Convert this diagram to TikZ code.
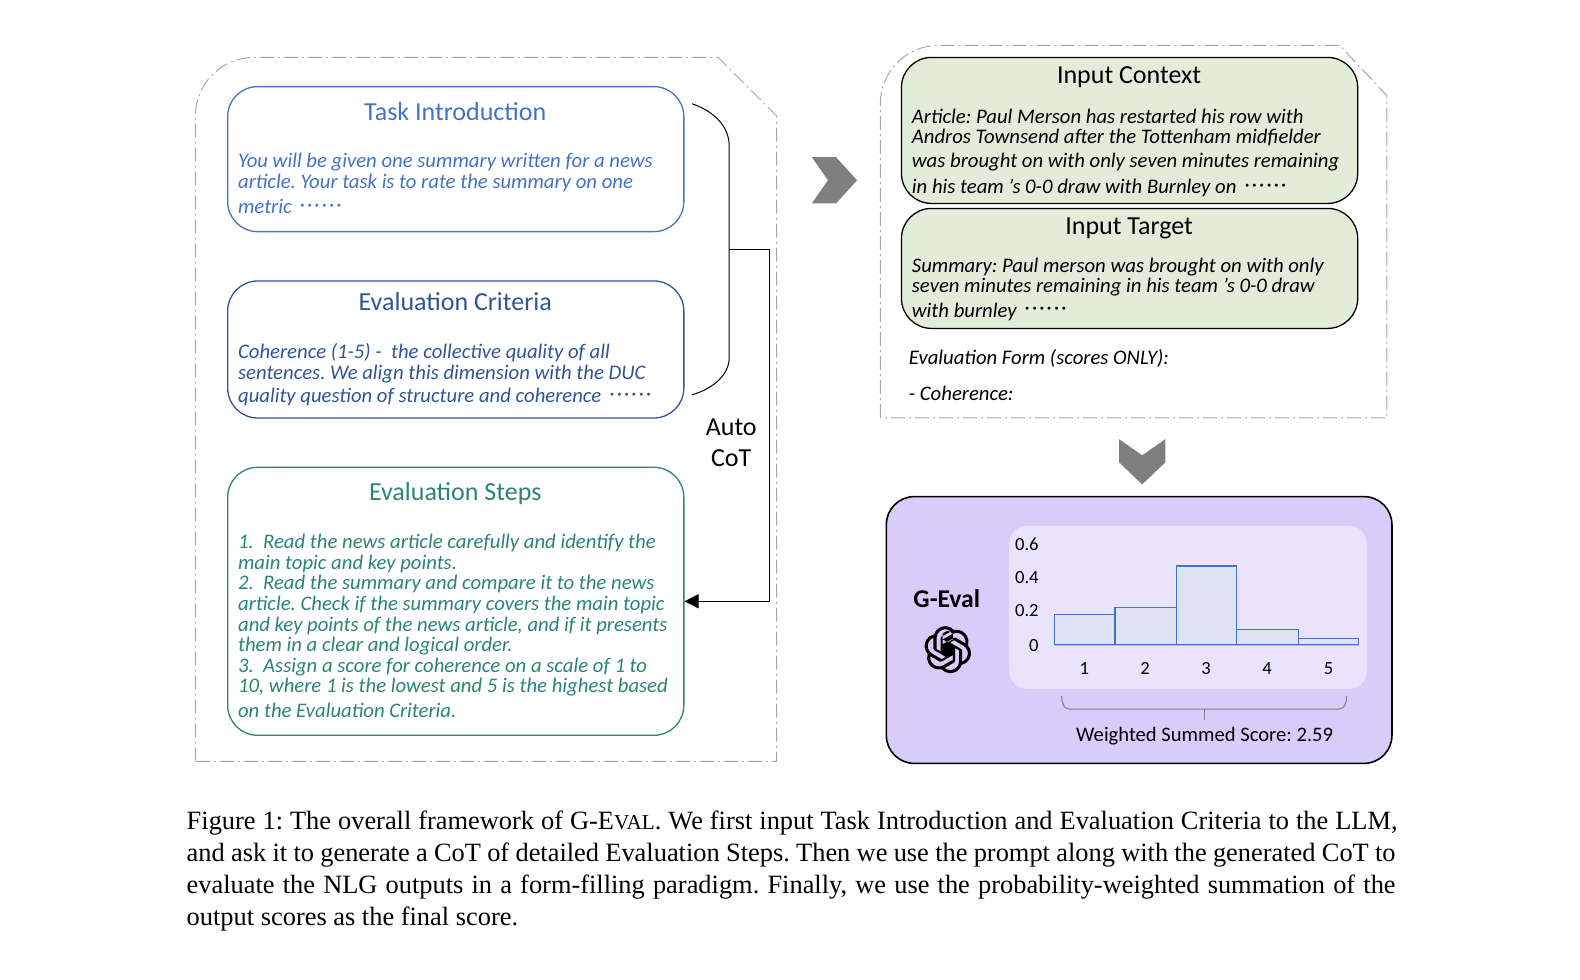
\documentclass[tikz,border=0pt]{standalone}
\usepackage{fontspec}
\setmainfont{Carlito}
\newfontfamily\capfont{Liberation Serif}
\usetikzlibrary{positioning,arrows.meta,svg.path}
\definecolor{taskblue}{HTML}{4472C4}
\definecolor{critblue}{HTML}{2F5597}
\definecolor{stepteal}{HTML}{2A8478}
\definecolor{inputgreen}{HTML}{E2ECD9}
\definecolor{panelpurple}{HTML}{D8CCFA}
\definecolor{chartpurple}{HTML}{E9E3FB}
\definecolor{barfill}{HTML}{DDE3F0}
\definecolor{framegray}{HTML}{A6A6A6}
\definecolor{chevgray}{HTML}{7F7F7F}
\newcommand{\trail}{\hspace{0.38em}\raisebox{1.2pt}{\foreach \n in {1,...,6}{·\kern1.05pt}}}
\tikzset{
	card/.style={draw, line width=0.65pt, rounded corners=15pt, minimum width=228.1pt, inner sep=0pt},
	cardtitle/.style={font=\fontsize{13}{15}\selectfont, inner sep=0pt},
	cardtext/.style={font=\fontsize{10.36}{10.3}\selectfont\itshape\frenchspacing, anchor=north west, align=left, inner sep=0pt},
	frame/.style={draw=framegray, line width=0.5pt, dash pattern=on 7pt off 2pt on 1pt off 2pt},
	chev/.style={fill=chevgray, draw=none},
	bar/.style={draw=taskblue, fill=barfill, line width=0.55pt},
	ticklabel/.style={font=\fontsize{9.3}{11}\selectfont, inner sep=0pt},
	capline/.style={font=\capfont\fontsize{13.2}{15}\selectfont\frenchspacing, anchor=base west, inner sep=0pt}
}
\begin{document}
\begin{tikzpicture}[x=0.5036pt,y=-0.5036pt]
	\useasboundingbox (0,0) rectangle (1568.7,973);

	% dashed frames
	\draw[frame] (194,756) -- (194,115) arc[start angle=180,end angle=90,radius=29.2pt] -- (713,57) -- (771,115) -- (771,756) -- cycle;
	\draw[frame] (874,415) -- (874,103) arc[start angle=180,end angle=90,radius=29.2pt] -- (1330,45) -- (1377,95) -- (1377,415) -- cycle;

	% left column
	\node[card, draw=taskblue, minimum height=72.5pt] (task) at (452.5,158) {};
	\node[card, draw=critblue, minimum height=68.5pt] (crit) at (452.5,347) {};
	\node[card, draw=stepteal, minimum height=134pt] (steps) at (452.5,597) {};

	\node[cardtitle, text=taskblue] (tasktitle) at (452,111) {Task Introduction};
	\node[cardtitle, text=critblue] (crittitle) at (452,299) {Evaluation Criteria};
	\node[cardtitle, text=stepteal] (stepstitle) at (452,490) {Evaluation Steps};

	\node[cardtext, text=taskblue] (tasktext) at (236,152) {You will be given one summary written for a news\\article. Your task is to rate the summary on one\\[2.2pt]metric\trail};
	\node[cardtext, text=critblue] (crittext) at (236,340.5) {Coherence (1-5) -~ the collective quality of all\\sentences. We align this dimension with the DUC\\[1.5pt]quality question of structure and coherence\trail};
	\node[cardtext, text=stepteal] (stepstext) at (236,530) {1.~ Read the news article carefully and identify the\\main topic and key points.\\2.~ Read the summary and compare it to the news\\article. Check if the summary covers the main topic\\and key points of the news article, and if it presents\\them in a clear and logical order.\\3.~ Assign a score for coherence on a scale of 1 to\\10, where 1 is the lowest and 5 is the highest based\\[2pt]on the Evaluation Criteria.};

	% bracket and feedback arrow
	\coordinate (brtop) at (687,103);
	\coordinate (brbot) at (687,392);
	\coordinate (brmid) at (724,248);
	\draw[line width=0.5pt] (brtop) .. controls (708,110) and (724,125) .. (724,145) -- (724,355) .. controls (724,372) and (708,386) .. (brbot);
	\draw[line width=0.5pt, -{Triangle[length=7pt,width=7pt]}] (brmid) -- (764,248) -- (764,597) -- (steps.east);
	\node[font=\fontsize{13}{15.6}\selectfont, align=center, inner sep=0pt] (autocot) at (726,439.5) {Auto\\CoT};

	% chevrons
	\fill[chev] (806,156) -- (830,156) -- (851,179) -- (830,202) -- (806,202) -- (822,179) -- cycle;
	\fill[chev] (1111,436) -- (1134,452) -- (1157,436) -- (1157,459) -- (1134,481) -- (1111,459) -- cycle;

	% right column
	\node[card, draw=black, fill=inputgreen, minimum height=73pt] (context) at (1121.5,129.5) {};
	\node[card, draw=black, fill=inputgreen, minimum height=60pt] (target) at (1121.5,266.5) {};
	\node[cardtitle] (contexttitle) at (1121,76.5) {Input Context};
	\node[cardtitle] (targettitle) at (1121,227) {Input Target};
	\node[cardtext] (contexttext) at (905,107.5) {Article: Paul Merson has restarted his row with\\Andros Townsend after the Tottenham midfielder\\[1.4pt]was brought on with only seven minutes remaining\\[3pt]in his team 's 0-0 draw with Burnley on\trail};
	\node[cardtext] (targettext) at (905,255.5) {Summary: Paul merson was brought on with only\\seven minutes remaining in his team 's 0-0 draw\\[2pt]with burnley\trail};
	\node[cardtext] (formtext) at (902,346.5) {Evaluation Form (scores ONLY):\\[7.8pt]- Coherence:};

	% result panel
	\node[card, draw=black, fill=panelpurple, rounded corners=14pt, line width=0.8pt, minimum width=252.8pt, minimum height=133.4pt] (panel) at (1131,625.5) {};
	\node[fill=chartpurple, rounded corners=9pt, minimum width=178.8pt, minimum height=81.6pt, inner sep=0pt] (chart) at (1179.5,603) {};
	\node[font=\fontsize{12.8}{14}\selectfont\bfseries, inner sep=0pt] (geval) at (940,594) {G-Eval};

	% logo
	\begin{scope}[shift={(941,645)}, scale=0.98, yscale=-1, shift={(-12pt,-12pt)}]
		\fill[even odd rule] svg {M22.2819 9.8211 a5.9847 5.9847 0 0 0 -0.5157 -4.9108 6.0462 6.0462 0 0 0 -6.5098 -2.9 A6.0651 6.0651 0 0 0 4.9807 4.1818 a5.9847 5.9847 0 0 0 -3.9977 2.9 6.0462 6.0462 0 0 0 0.7427 7.0966 5.98 5.98 0 0 0 0.511 4.9107 6.051 6.051 0 0 0 6.5146 2.9001 A5.9847 5.9847 0 0 0 13.2599 24 a6.0557 6.0557 0 0 0 5.7718 -4.2058 5.9894 5.9894 0 0 0 3.9977 -2.9001 6.0557 6.0557 0 0 0 -0.7475 -7.073 z
		M13.2599 22.4292 a4.4755 4.4755 0 0 1 -2.8764 -1.0408 l0.1419 -0.0804 4.7783 -2.7582 a0.7948 0.7948 0 0 0 0.3927 -0.6813 v-6.7369 l2.02 1.1686 a0.071 0.071 0 0 1 0.038 0.052 v5.5826 a4.504 4.504 0 0 1 -4.4945 4.4944 z
		M3.5992 18.3038 a4.4708 4.4708 0 0 1 -0.5346 -3.0137 l0.142 0.0852 4.783 2.7582 a0.7712 0.7712 0 0 0 0.7806 0 l5.8428 -3.3685 v2.3324 a0.0804 0.0804 0 0 1 -0.0332 0.0615 L9.74 19.9502 a4.4992 4.4992 0 0 1 -6.1408 -1.6464 z
		M2.3408 7.8956 a4.485 4.485 0 0 1 2.3655 -1.9728 V11.6 a0.7664 0.7664 0 0 0 0.3879 0.6765 l5.8144 3.3543 -2.0201 1.1685 a0.0757 0.0757 0 0 1 -0.071 0 l-4.8303 -2.7865 A4.504 4.504 0 0 1 2.3408 7.872 z
		M18.9371 11.7514 L13.1038 8.364 15.1192 7.2 a0.0757 0.0757 0 0 1 0.071 0 l4.8303 2.7913 a4.4944 4.4944 0 0 1 -0.6765 8.1042 v-5.6772 a0.79 0.79 0 0 0 -0.407 -0.667 z
		M20.9478 8.7283 l-0.142 -0.0852 -4.7735 -2.7818 a0.7759 0.7759 0 0 0 -0.7854 0 L9.409 9.2297 V6.8974 a0.0662 0.0662 0 0 1 0.0284 -0.0615 l4.8303 -2.7866 a4.4992 4.4992 0 0 1 6.6802 4.66 z
		M8.3065 12.863 l-2.02 -1.1638 a0.0804 0.0804 0 0 1 -0.038 -0.0567 V6.0742 a4.4992 4.4992 0 0 1 7.3757 -3.4537 l-0.142 0.0805 L8.704 5.459 a0.7948 0.7948 0 0 0 -0.3927 0.6813 z
		m1.0976 -2.3654 l2.602 -1.4998 2.6069 1.4998 v2.9994 l-2.5974 1.4997 -2.6067 -1.4997 Z};
	\end{scope}

	% bars
	\draw[bar] (1047,640) rectangle (1107,610);
	\draw[bar] (1107,640) rectangle (1168,603);
	\draw[bar] (1168,640) rectangle (1228,562);
	\draw[bar] (1228,640) rectangle (1289,625);
	\draw[bar] (1289,640) rectangle (1349,634);
	\draw[line width=0.6pt, draw=black!25] (1047,640.5) -- (1349,640.5);
	\foreach \val/\ypos in {0.6/540,0.4/573,0.2/606}
		\node[ticklabel] (y\ypos) at (1019.5,\ypos) {\val};
	\node[ticklabel] (y0) at (1026.5,640.5) {0};
	\foreach \val/\xpos in {1/1076.5,2/1137,3/1197.5,4/1258,5/1319}
		\node[ticklabel] (x\val) at (\xpos,664) {\val};

	% brace
	\coordinate (brleft) at (1054,691);
	\coordinate (brright) at (1337,691);
	\coordinate (brstem) at (1196,704);
	\node[font=\fontsize{10.3}{12}\selectfont\frenchspacing, inner sep=0pt] (score) at (1196,730.5) {Weighted Summed Score: 2.59};
	\draw[draw=black!50, line width=0.5pt] (brleft) .. controls (1054,698) and (1056,704) .. (1062,704) -- (1329,704) .. controls (1335,704) and (1337,698) .. (brright);
	\draw[draw=black!50, line width=0.5pt] (brstem) -- (1196,715);

	% caption
	\node[capline] (cap1) at (185,824) {\makebox[605.4pt][s]{Figure 1: The overall framework of G-E{\fontsize{10.6}{15}\selectfont VAL}. We first input Task Introduction and Evaluation Criteria to the LLM,}};
	\node[capline] (cap2) at (185,855.5) {\makebox[604.4pt][s]{and ask it to generate a CoT of detailed Evaluation Steps. Then we use the prompt along with the generated CoT to}};
	\node[capline] (cap3) at (185,887) {\makebox[604.4pt][s]{evaluate the NLG outputs in a form-filling paradigm. Finally, we use the probability-weighted summation of the}};
	\node[capline] (cap4) at (185,918.5) {output scores as the final score.};
\end{tikzpicture}
\end{document}
